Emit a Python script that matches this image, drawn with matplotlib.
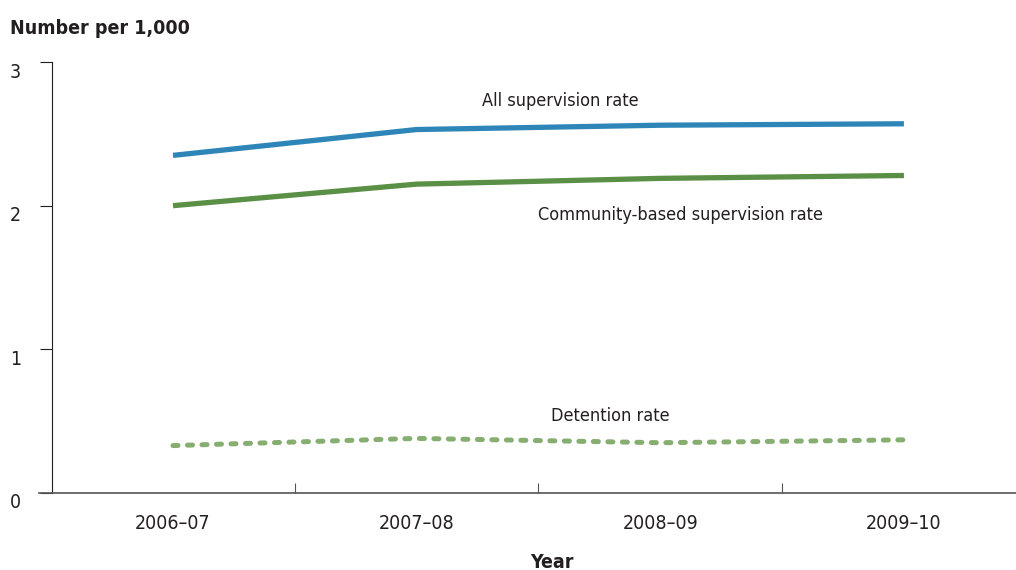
import matplotlib.pyplot as plt
import matplotlib.transforms as mtransforms
from matplotlib import font_manager
import numpy as np

# pick a narrow font if one is installed
names = {f.name for f in font_manager.fontManager.ttflist}
narrow = [f for f in font_manager.fontManager.ttflist
          if 'condensed' in str(f.stretch).lower() or 'Narrow' in f.name or 'Condensed' in f.name]
stretch = 'normal'
if 'Liberation Sans Narrow' in names:
    family = 'Liberation Sans Narrow'
elif narrow:
    family = narrow[0].name
    stretch = 'condensed'
else:
    family = 'Liberation Sans'
plt.rcParams['font.family'] = [family, 'DejaVu Sans']
plt.rcParams['font.stretch'] = stretch

years = ['2006–07', '2007–08', '2008–09', '2009–10']
all_supervision = [2.35, 2.53, 2.56, 2.57]
community = [2.00, 2.15, 2.19, 2.21]
detention = [0.33, 0.38, 0.35, 0.37]

fig = plt.figure(figsize=(10.16, 5.70), dpi=100)
ax = fig.add_axes([39 / 1016, 77 / 570, 977 / 1016, 431 / 570])

x = np.arange(len(years))
ax.plot(x, all_supervision, color='#2e86b8', lw=3.8, solid_capstyle='butt')
ax.plot(x, community, color='#5a8f46', lw=3.8, solid_capstyle='butt')
ax.plot(x, detention, color='#86ae70', lw=3.6, dashes=(1, 1.9), dash_capstyle='round')

tc = '#231f20'
ax.text(1.59, 2.73, 'All supervision rate', ha='center', va='center', fontsize=13, color=tc)
ax.text(2.085, 1.935, 'Community-based supervision rate', ha='center', va='center', fontsize=13, color=tc)
ax.text(1.793, 0.536, 'Detention rate', ha='center', va='center', fontsize=13, color=tc)

for s in ['top', 'right']:
    ax.spines[s].set_visible(False)
ax.spines['left'].set_position(('data', -0.497))
ax.spines['left'].set_color(tc)
ax.spines['left'].set_linewidth(0.8)
ax.spines['bottom'].set_color('#555555')
ax.spines['bottom'].set_linewidth(1.2)

ax.set_xlim(-0.55, 3.46)
ax.set_ylim(0, 3)
ax.set_yticks([0, 1, 2, 3])
ax.tick_params(axis='y', length=8.6, width=0.8, pad=13.5, labelsize=14, colors=tc)
# labels sit just below their ticks in the original
shift = mtransforms.ScaledTranslation(0, -0.08, fig.dpi_scale_trans)
for lbl in ax.get_yticklabels():
    lbl.set_transform(lbl.get_transform() + shift)
ax.set_xticks(x)
ax.set_xticklabels(years)
ax.tick_params(axis='x', which='major', length=0, pad=15, labelsize=14, colors=tc)
ax.set_xticks([0.5, 1.5, 2.5], minor=True)
ax.tick_params(axis='x', which='minor', direction='in', length=7.2, width=0.8, color='#555555')

fig.text(10 / 1016, 1 - 28 / 570, 'Number per 1,000', fontsize=14, fontweight='bold',
         ha='left', va='center', color=tc)
fig.text(552 / 1016, 1 - 562 / 570, 'Year', fontsize=14, fontweight='bold',
         ha='center', va='center', color=tc)

fig.savefig('out.png', dpi=100)
